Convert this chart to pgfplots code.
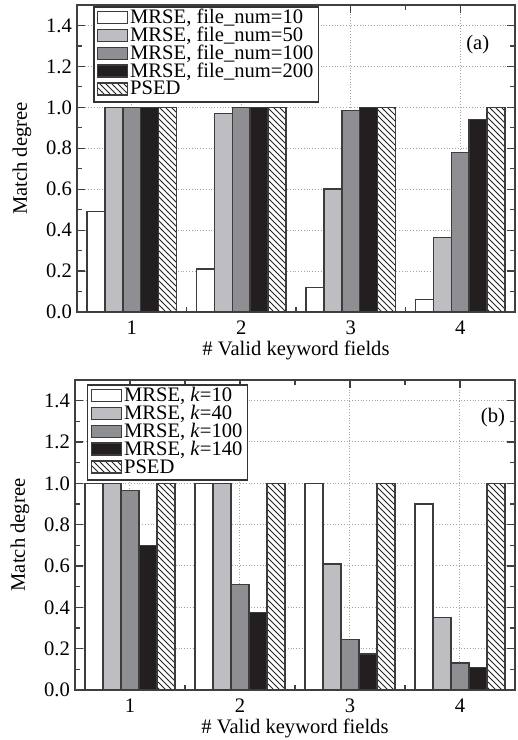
\documentclass[border=0pt]{standalone}
\usepackage{fontspec}
\setmainfont{Liberation Serif}
\usepackage{pgfplots}
\pgfplotsset{compat=1.18}
\usetikzlibrary{patterns}

\definecolor{lgray}{RGB}{190,190,194}
\definecolor{mgray}{RGB}{142,142,147}
\definecolor{dgray}{RGB}{35,31,32}
\definecolor{edge}{RGB}{60,60,60}

\pgfplotsset{
  matchstyle/.style={
    scale only axis,
    ybar=0pt, bar width=0.163,
    xmin=0.5, xmax=4.5, ymin=0, ymax=1.5,
    xtick={1,2,3,4}, xticklabels={1,2,3,4}, minor x tick num=1,
    ytick={0,0.2,0.4,0.6,0.8,1.0,1.2,1.4},
    yticklabels={0.0,0.2,0.4,0.6,0.8,1.0,1.2,1.4},
    minor y tick num=1,
    tick align=inside, major tick length=4pt, minor tick length=2.5pt,
    every tick/.style={black!75, line width=0.6pt},
    grid=major, major grid style={densely dotted, gray!70, line width=0.5pt},
    axis line style={line width=0.9pt, black!75},
    xticklabel style={yshift=-1pt},
    yticklabel style={xshift=1pt},
    font=\fontsize{10.3}{12}\selectfont,
    ylabel={Match degree},
    ylabel style={at={(axis description cs:-0.088,0.5)}, anchor=south},
    xlabel={\# Valid keyword fields},
    xlabel style={at={(axis description cs:0.5,0)}, anchor=north, yshift=-11pt},
    legend cell align=left,
    legend style={draw=black!80, line width=0.8pt, inner sep=1.5pt,
      nodes={inner xsep=1pt, inner ysep=0pt, text height=7pt, text depth=1.9pt},
      row sep=0pt, fill=white},
    legend image code/.code={\draw[#1, line width=0.7pt] (0pt,-2.5pt) rectangle (15pt,3.5pt);},
  },
  bar0/.style={draw=edge, line width=0.7pt, fill=white},
  bar1/.style={draw=edge, line width=0.7pt, fill=lgray},
  bar2/.style={draw=edge, line width=0.7pt, fill=mgray},
  bar3/.style={draw=edge, line width=0.7pt, fill=dgray},
  bar4/.style={draw=edge, line width=0.7pt, fill=white, postaction={pattern=north west lines, pattern color=black!85}},
}

\begin{document}
\begin{tikzpicture}
\useasboundingbox (0,0) rectangle (259pt,370pt);

% (a)
\begin{axis}[matchstyle,
  at={(38.5pt,214pt)}, anchor=south west,
  width=219pt, height=153.5pt,
  legend style={at={(rel axis cs:0.0365,0.997)}, anchor=north west},
]
  \addplot[bar0] coordinates {(1,0.49) (2,0.21) (3,0.12) (4,0.06)};
  \addplot[bar1] coordinates {(1,1.0) (2,0.97) (3,0.60) (4,0.365)};
  \addplot[bar2] coordinates {(1,1.0) (2,1.0) (3,0.985) (4,0.78)};
  \addplot[bar3] coordinates {(1,1.0) (2,1.0) (3,1.0) (4,0.94)};
  \addplot[bar4] coordinates {(1,1.0) (2,1.0) (3,1.0) (4,1.0)};
  \legend{{MRSE, file\_num=10},{MRSE, file\_num=50},{MRSE, file\_num=100},{MRSE, file\_num=200},PSED}
  \node at (axis cs:4.16,1.305) {(a)};
\end{axis}

% (b)
\begin{axis}[matchstyle,
  at={(37.5pt,25pt)}, anchor=south west,
  width=220pt, height=155pt,
  legend style={at={(rel axis cs:0.027,0.987)}, anchor=north west},
]
  \addplot[bar0] coordinates {(1,1.0) (2,1.0) (3,1.0) (4,0.90)};
  \addplot[bar1] coordinates {(1,1.0) (2,1.0) (3,0.61) (4,0.35)};
  \addplot[bar2] coordinates {(1,0.965) (2,0.51) (3,0.245) (4,0.13)};
  \addplot[bar3] coordinates {(1,0.70) (2,0.375) (3,0.175) (4,0.11)};
  \addplot[bar4] coordinates {(1,1.0) (2,1.0) (3,1.0) (4,1.0)};
  \legend{{MRSE, \textit{k}=10},{MRSE, \textit{k}=40},{MRSE, \textit{k}=100},{MRSE, \textit{k}=140},PSED}
  \node at (axis cs:4.30,1.316) {(b)};
\end{axis}
\end{tikzpicture}
\end{document}
